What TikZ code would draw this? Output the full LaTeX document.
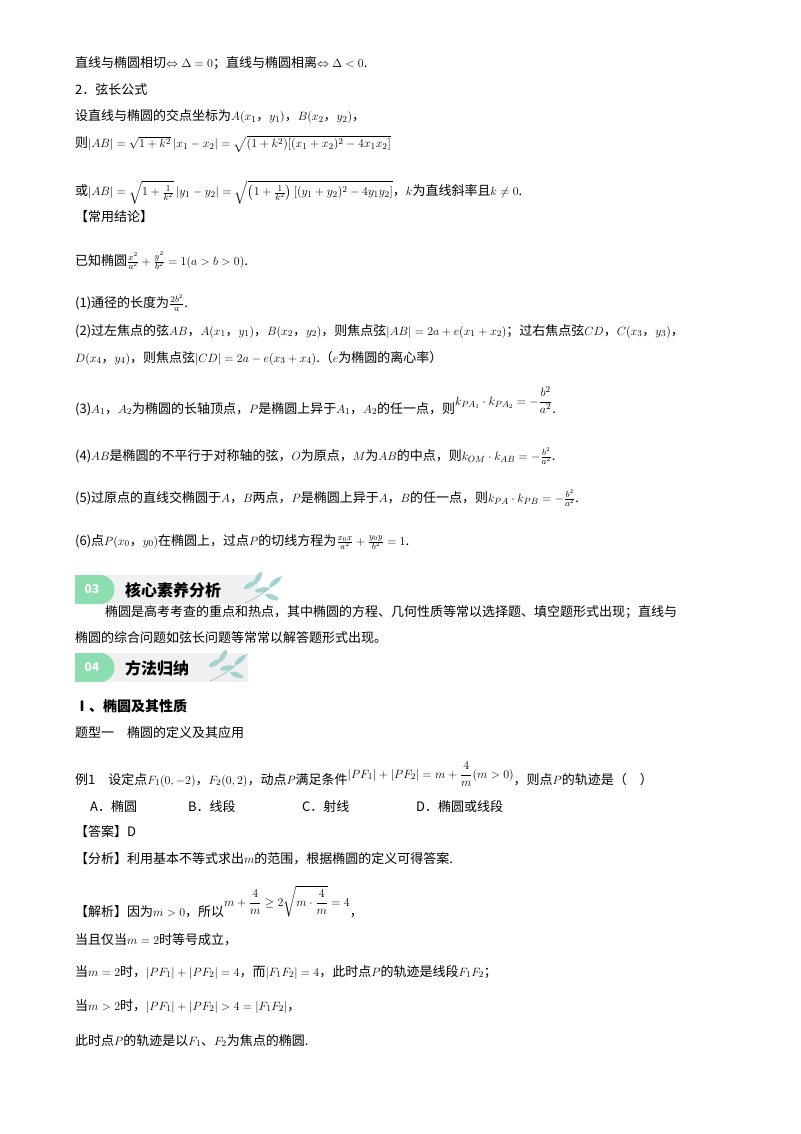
\documentclass[tikz,border=0pt]{standalone}
\usepackage{amsmath,amssymb}
\usepackage{fontspec}
\setmainfont{Noto Sans CJK SC}
\begin{document}
\begin{tikzpicture}[x=1pt,y=1pt,
  L/.style={anchor=base west,inner sep=0pt,font=\fontsize{13}{15}\selectfont},
  tab/.style={fill=gray!12,draw=none},
  leaf/.style={fill=teal!35,draw=none}]
\useasboundingbox (0,0) rectangle (800,-1134);
\fill[white] (0,0) rectangle (800,-1134);
\node[L] (l1) at (75,-68) {直线与椭圆相切$\Leftrightarrow\Delta=0$；直线与椭圆相离$\Leftrightarrow\Delta<0$.};
\node[L] (l2) at (75,-95) {2．弦长公式};
\node[L] (l3) at (75,-121) {设直线与椭圆的交点坐标为$A(x_1$，$y_1)$，$B(x_2$，$y_2)$，};
\node[L] (l4) at (75,-148) {则$|AB|=\sqrt{1+k^2}\,|x_1-x_2|=\sqrt{(1+k^2)[(x_1+x_2)^2-4x_1x_2]}$};
\node[L] (l5) at (75,-196) {或$|AB|=\sqrt{1+\frac{1}{k^2}}\,|y_1-y_2|=\sqrt{\left(1+\frac{1}{k^2}\right)[(y_1+y_2)^2-4y_1y_2]}$，$k$为直线斜率且$k\neq0$.};
\node[L] (l6) at (75,-221) {【常用结论】};
\node[L] (l7) at (75,-265) {已知椭圆$\frac{x^2}{a^2}+\frac{y^2}{b^2}=1(a>b>0)$.};
\node[L] (l8) at (75,-307) {(1)通径的长度为$\frac{2b^2}{a}$.};
\node[L] (l9) at (75,-335) {(2)过左焦点的弦$AB$，$A(x_1$，$y_1)$，$B(x_2$，$y_2)$，则焦点弦$|AB|=2a+e(x_1+x_2)$；过右焦点弦$CD$，$C(x_3$，$y_3)$，};
\node[L] (l10) at (75,-362) {$D(x_4$，$y_4)$，则焦点弦$|CD|=2a-e(x_3+x_4)$.（$e$为椭圆的离心率）};
\node[L] (l11) at (75,-413) {(3)$A_1$，$A_2$为椭圆的长轴顶点，$P$是椭圆上异于$A_1$，$A_2$的任一点，则\raisebox{8pt}{$k_{PA_1}\cdot k_{PA_2}=-\dfrac{b^2}{a^2}$}.};
\node[L] (l12) at (75,-460) {(4)$AB$是椭圆的不平行于对称轴的弦，$O$为原点，$M$为$AB$的中点，则$k_{OM}\cdot k_{AB}=-\frac{b^2}{a^2}$.};
\node[L] (l13) at (75,-502) {(5)过原点的直线交椭圆于$A$，$B$两点，$P$是椭圆上异于$A$，$B$的任一点，则$k_{PA}\cdot k_{PB}=-\frac{b^2}{a^2}$.};
\node[L] (l14) at (75,-545) {(6)点$P(x_0$，$y_0)$在椭圆上，过点$P$的切线方程为$\frac{x_0x}{a^2}+\frac{y_0y}{b^2}=1$.};
% banner 03
\fill[tab] (75,-575) rectangle (258,-604);
\fill[green!40!teal!45] (75,-575) -- (100,-575) arc[start angle=90,end angle=-90,radius=14.5] -- (75,-604) -- cycle;
\node[font=\bfseries\fontsize{12}{14}\selectfont,text=white] (b3) at (92,-589.5) {03};
\node[L,font=\bfseries\fontsize{16}{18}\selectfont] (t3) at (125,-596) {核心素养分析};
\foreach \a/\dx/\dy in {30/250/-585,10/262/-590,-20/272/-597,60/258/-578,40/275/-582}{
  \fill[leaf] (\dx,\dy) ellipse[x radius=7,y radius=2.5,rotate=\a];}
\draw[teal!40,line width=0.8pt] (245,-603) .. controls (262,-595) .. (282,-576);
\node[L] (p1) at (105,-616) {椭圆是高考考查的重点和热点，其中椭圆的方程、几何性质等常以选择题、填空题形式出现；直线与};
\node[L] (p2) at (75,-642) {椭圆的综合问题如弦长问题等常常以解答题形式出现。};
% banner 04
\fill[tab] (75,-653) rectangle (248,-682);
\fill[green!40!teal!45] (75,-653) -- (100,-653) arc[start angle=90,end angle=-90,radius=14.5] -- (75,-682) -- cycle;
\node[font=\bfseries\fontsize{12}{14}\selectfont,text=white] (b4) at (92,-667.5) {04};
\node[L,font=\bfseries\fontsize{16}{18}\selectfont] (t4) at (125,-674) {方法归纳};
\foreach \a/\dx/\dy in {30/215/-663,10/227/-668,-20/237/-675,60/223/-656,40/240/-660}{
  \fill[leaf] (\dx,\dy) ellipse[x radius=7,y radius=2.5,rotate=\a];}
\draw[teal!40,line width=0.8pt] (210,-681) .. controls (227,-673) .. (247,-654);
\node[L,font=\bfseries\fontsize{14}{16}\selectfont] (h1) at (75,-711) {Ⅰ、椭圆及其性质};
\node[L] (h2) at (75,-737) {题型一\quad 椭圆的定义及其应用};
\node[L] (e1) at (75,-784) {例1\quad 设定点$F_1(0,-2)$，$F_2(0,2)$，动点$P$满足条件\raisebox{6pt}{$|PF_1|+|PF_2|=m+\dfrac{4}{m}(m>0)$}，则点$P$的轨迹是（\quad ）};
\node[L] (o1) at (90,-811) {A．椭圆};
\node[L] (o2) at (188,-811) {B．线段};
\node[L] (o3) at (302,-811) {C．射线};
\node[L] (o4) at (416,-811) {D．椭圆或线段};
\node[L] (a1) at (75,-836) {【答案】D};
\node[L] (a2) at (75,-863) {【分析】利用基本不等式求出$m$的范围，根据椭圆的定义可得答案.};
\node[L] (a3) at (75,-916) {【解析】因为$m>0$，所以\raisebox{10pt}{$m+\dfrac{4}{m}\geq2\sqrt{m\cdot\dfrac{4}{m}}=4$}，};
\node[L] (a4) at (75,-944) {当且仅当$m=2$时等号成立，};
\node[L] (a5) at (75,-976) {当$m=2$时，$|PF_1|+|PF_2|=4$，而$|F_1F_2|=4$，此时点$P$的轨迹是线段$F_1F_2$；};
\node[L] (a6) at (75,-1010) {当$m>2$时，$|PF_1|+|PF_2|>4=|F_1F_2|$，};
\node[L] (a7) at (75,-1045) {此时点$P$的轨迹是以$F_1$、$F_2$为焦点的椭圆.};
\end{tikzpicture}
\end{document}
